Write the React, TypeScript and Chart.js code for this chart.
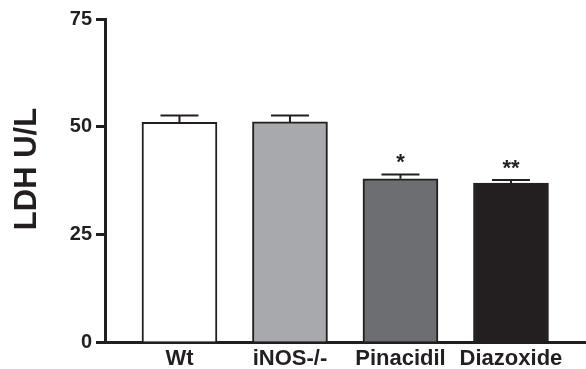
import React, { useEffect, useRef } from "react";
import { Chart, registerables } from "chart.js";

Chart.register(...registerables);

const categories = ["Wt", "iNOS-/-", "Pinacidil", "Diazoxide"];
const means = [51.0, 51.1, 37.9, 36.9];
const sems = [1.6, 1.5, 1.0, 0.7];
const marks = ["", "", "*", "**"];
const barColors = ["#ffffff", "#a7a9ac", "#6d6e71", "#231f20"];
const yTicks = [0, 25, 50, 75];
const yTitle = "LDH U/L";
const ink = "#231f20";
const FONT = "'Liberation Sans', Arial, sans-serif";

const errorPlugin = {
  id: "errorBars",
  afterDatasetsDraw(chart: any) {
    const ctx = chart.ctx;
    const x = chart.scales.x;
    const y = chart.scales.y;
    ctx.save();
    ctx.strokeStyle = ink;
    ctx.lineWidth = 2;
    means.forEach((m, i) => {
      const cx = x.getPixelForValue(i + 1);
      const top = y.getPixelForValue(m);
      const cap = y.getPixelForValue(m + sems[i]);
      ctx.beginPath();
      ctx.moveTo(cx, top);
      ctx.lineTo(cx, cap);
      ctx.moveTo(cx - 19, cap);
      ctx.lineTo(cx + 19, cap);
      ctx.stroke();
      if (marks[i]) {
        ctx.fillStyle = ink;
        ctx.font = `bold 22px ${FONT}`;
        ctx.textAlign = "center";
        ctx.textBaseline = "alphabetic";
        ctx.fillText(marks[i], cx, cap - 5);
      }
    });
    // y-axis title
    ctx.translate(27, 169);
    ctx.rotate(-Math.PI / 2);
    ctx.fillStyle = ink;
    ctx.font = `bold 31px ${FONT}`;
    ctx.textAlign = "center";
    ctx.textBaseline = "middle";
    ctx.fillText(yTitle, 0, 0);
    ctx.restore();
  },
};

export default function App() {
  const ref = useRef<HTMLCanvasElement>(null);
  useEffect(() => {
    if (!ref.current) return;
    const chart = new Chart(ref.current, {
      type: "bar",
      data: {
        datasets: [
          {
            data: means.map((v, i) => ({ x: i + 1, y: v })),
            backgroundColor: barColors,
            borderColor: ink,
            borderWidth: 2,
            barThickness: 75,
          },
        ],
      },
      options: {
        responsive: true,
        maintainAspectRatio: false,
        animation: false,
        layout: { padding: { top: 19, right: 0, left: 0, bottom: 0 } },
        plugins: { legend: { display: false }, tooltip: { enabled: false } },
        scales: {
          x: {
            type: "linear",
            offset: false,
            min: 0.326,
            max: 4.679,
            afterBuildTicks: (s: any) => {
              s.ticks = categories.map((_, i) => ({ value: i + 1 }));
            },
            afterFit: (s: any) => {
              s.height = 27;
            },
            grid: { display: false, drawTicks: false, tickLength: 0 },
            border: { display: true, width: 3, color: ink },
            ticks: {
              autoSkip: false,
              maxRotation: 0,
              padding: 4,
              color: ink,
              font: { family: FONT, size: 22, weight: "bold" },
              callback: (v: any) => categories[Math.round(v) - 1] ?? "",
            },
          },
          y: {
            min: 0,
            max: 75,
            afterBuildTicks: (s: any) => {
              s.ticks = yTicks.map((v) => ({ value: v }));
            },
            afterFit: (s: any) => {
              s.width = 105;
            },
            grid: {
              display: true,
              drawOnChartArea: false,
              drawTicks: true,
              tickLength: 9,
              tickWidth: 3,
              color: ink,
            },
            border: { display: true, width: 3, color: ink },
            ticks: {
              padding: 4,
              color: ink,
              font: { family: FONT, size: 20, weight: "bold" },
            },
          },
        },
      },
      plugins: [errorPlugin],
    });
    return () => chart.destroy();
  }, []);
  return (
    <div style={{ position: "fixed", left: 0, top: 0, width: 586, height: 369, background: "#fff" }}>
      <canvas ref={ref} />
    </div>
  );
}
